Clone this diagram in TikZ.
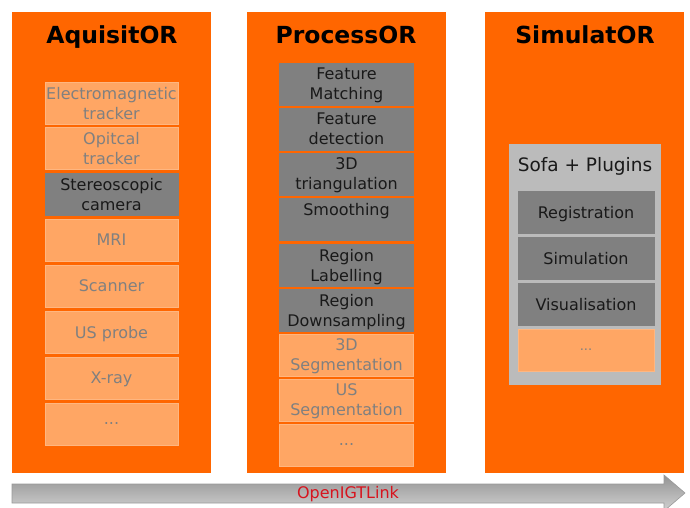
\documentclass[tikz,border=0pt]{standalone}
\usepackage{fontspec}
\setmainfont{DejaVu Sans}
\usetikzlibrary{shapes}
\definecolor{orcolumn}{RGB}{255,102,0}
\definecolor{orlight}{RGB}{255,166,100}
\definecolor{orborder}{RGB}{255,182,128}
\definecolor{boxgray}{RGB}{128,128,128}
\definecolor{sofagray}{RGB}{187,187,187}
\definecolor{linkred}{RGB}{215,20,30}
\tikzstyle{title} = [font=\fontsize{23.5}{28}\selectfont\bfseries, text depth=0pt]
\tikzstyle{lightbox} = [fill=orlight, draw=orborder, line width=0.6pt, text=boxgray, minimum width=133pt, minimum height=42pt, inner sep=0pt, text depth=0pt, align=center, font=\fontsize{16}{20}\selectfont]
\tikzstyle{darkbox} = [lightbox, fill=boxgray, draw=boxgray, text=black!90]

\begin{document}
\begin{tikzpicture}[x=1pt,y=-1pt]
\useasboundingbox (0,0) rectangle (690,508);
% columns
\fill[orcolumn] (12,12) rectangle (211,473);
\fill[orcolumn] (247,12) rectangle (446,473);
\fill[orcolumn] (485,12) rectangle (684,473);
\node[title] (aquisitor) at (112,34.5) {AquisitOR};
\node[title] (processor) at (346,34.5) {ProcessOR};
\node[title] (simulator) at (585,34.5) {SimulatOR};
% AquisitOR
\node[lightbox] (em) at (111.5,103) {Electromagnetic\\tracker};
\node[lightbox] (optical) at (111.5,148) {Opitcal\\tracker};
\node[darkbox] (stereo) at (111.5,194) {Stereoscopic\\camera};
\node[lightbox] (mri) at (111.5,240) {MRI};
\node[lightbox] (scanner) at (111.5,286) {Scanner};
\node[lightbox] (usprobe) at (111.5,332) {US probe};
\node[lightbox] (xray) at (111.5,378) {X-ray};
\node[lightbox] (acqmore) at (111.5,424) {...};
% ProcessOR
\node[darkbox, minimum width=134pt] (matching) at (346.5,84) {Feature\\Matching};
\node[darkbox, minimum width=134pt] (detection) at (346.5,129) {Feature\\detection};
\node[darkbox, minimum width=134pt] (triang) at (346.5,174) {3D\\triangulation};
\node[darkbox, minimum width=134pt] (smoothing) at (346.5,219) {Smoothing\\~};
\node[darkbox, minimum width=134pt] (labelling) at (346.5,265) {Region\\Labelling};
\node[darkbox, minimum width=134pt] (downsampling) at (346.5,310) {Region\\Downsampling};
\node[lightbox, minimum width=134pt] (seg3d) at (346.5,355) {3D\\Segmentation};
\node[lightbox, minimum width=134pt] (segus) at (346.5,400) {US\\Segmentation};
\node[lightbox, minimum width=134pt] (procmore) at (346.5,445) {...};
% SimulatOR
\fill[sofagray] (509,144) rectangle (661,385);
\node[font=\fontsize{18.5}{22}\selectfont, text=black!90, text depth=0pt] (sofa) at (585,164) {Sofa + Plugins};
\node[darkbox, minimum width=136pt] (registration) at (586,212) {Registration};
\node[darkbox, minimum width=136pt] (simulation) at (586,258) {Simulation};
\node[darkbox, minimum width=136pt] (visualisation) at (586,304) {Visualisation};
\node[lightbox, minimum width=136pt, font=\fontsize{13}{16}\selectfont] (simmore) at (586,350) {...};
% OpenIGTLink
\shade[top color=black!42, bottom color=black!18, draw=black!40, line width=0.6pt]
  (12,484) -- (664,484) -- (664,475) -- (685,493) -- (664,511) -- (664,503) -- (12,503) -- cycle;
\node[text=linkred, font=\fontsize{16}{20}\selectfont] (link) at (348,494) {OpenIGTLink};
\end{tikzpicture}
\end{document}
